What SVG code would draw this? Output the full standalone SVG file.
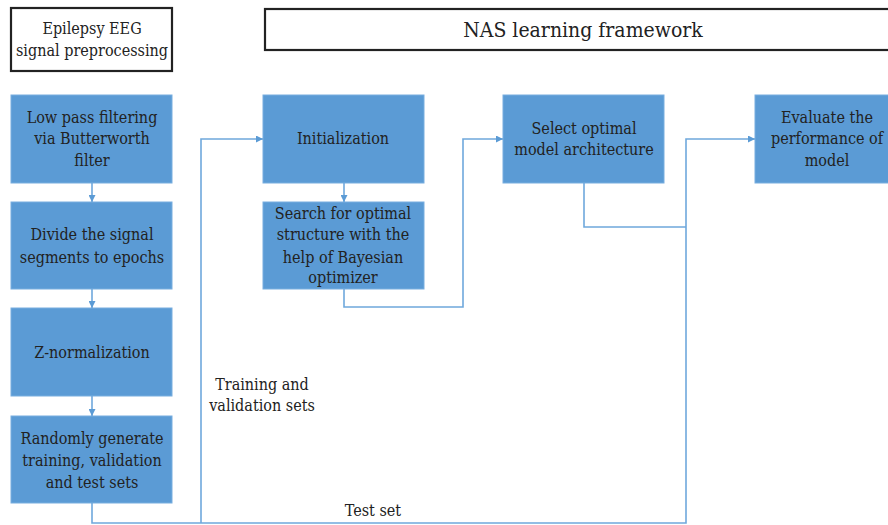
<svg xmlns="http://www.w3.org/2000/svg" width="888" height="525" viewBox="0 0 888 525">
<defs>
<style>
.box{fill:#5B9BD5;stroke:#79AEDF;stroke-width:1}
.hdr{fill:#fff;stroke:#222;stroke-width:2.2}
.t{font-family:"DejaVu Serif Condensed","DejaVu Serif",serif;font-stretch:condensed;font-size:16px;fill:#222;text-anchor:middle}
.big{font-size:21px}
.c{fill:none;stroke:#6FA8DC;stroke-width:1.6}
</style>
<marker id="ah" viewBox="0 0 10 10" refX="10" refY="5" markerWidth="7" markerHeight="7" markerUnits="userSpaceOnUse" orient="auto">
<path d="M0,0 L10,5 L0,10 Z" fill="#5B9BD5"/>
</marker>
</defs>
<rect width="888" height="525" fill="#fff"/>

<g id="hdr-preprocessing">
<rect class="hdr" x="11" y="8" width="161" height="63"/>
<text class="t" x="92" y="34">Epilepsy EEG</text>
<text class="t" x="92" y="56">signal preprocessing</text>
</g>
<g id="hdr-nas">
<rect class="hdr" x="265" y="9" width="640" height="41"/>
<text class="t big" x="583" y="37">NAS learning framework</text>
</g>

<g id="lowpass">
<rect class="box" x="11" y="95" width="161" height="88"/>
<text class="t" x="92" y="123">Low pass filtering</text>
<text class="t" x="92" y="144">via Butterworth</text>
<text class="t" x="92" y="166">filter</text>
</g>
<g id="divide">
<rect class="box" x="11" y="202" width="161" height="87"/>
<text class="t" x="92" y="240">Divide the signal</text>
<text class="t" x="92" y="263">segments to epochs</text>
</g>
<g id="znorm">
<rect class="box" x="11" y="308" width="161" height="88"/>
<text class="t" x="92" y="358">Z-normalization</text>
</g>
<g id="random">
<rect class="box" x="11" y="416" width="161" height="87"/>
<text class="t" x="92" y="444">Randomly generate</text>
<text class="t" x="92" y="466">training, validation</text>
<text class="t" x="92" y="488">and test sets</text>
</g>
<g id="init">
<rect class="box" x="263" y="95" width="161" height="88"/>
<text class="t" x="343" y="144">Initialization</text>
</g>
<g id="search">
<rect class="box" x="263" y="202" width="161" height="87"/>
<text class="t" x="343" y="219">Search for optimal</text>
<text class="t" x="343" y="240">structure with the</text>
<text class="t" x="343" y="263">help of Bayesian</text>
<text class="t" x="343" y="283">optimizer</text>
</g>
<g id="select">
<rect class="box" x="503" y="95" width="161" height="88"/>
<text class="t" x="584" y="134">Select optimal</text>
<text class="t" x="584" y="155">model architecture</text>
</g>
<g id="evaluate">
<rect class="box" x="755" y="95" width="161" height="88"/>
<text class="t" x="827" y="123">Evaluate the</text>
<text class="t" x="827" y="144">performance of</text>
<text class="t" x="827" y="166">model</text>
</g>

<g id="connectors">
<path class="c" d="M92,183 V202" marker-end="url(#ah)"/>
<path class="c" d="M92,289 V308" marker-end="url(#ah)"/>
<path class="c" d="M92,396 V416" marker-end="url(#ah)"/>
<path class="c" d="M344,183 V202" marker-end="url(#ah)"/>
<path class="c" d="M92,503 V523 H686 V139 H755" marker-end="url(#ah)"/>
<path class="c" d="M201,523 V139 H263" marker-end="url(#ah)"/>
<path class="c" d="M344,289 V307 H463 V139 H503" marker-end="url(#ah)"/>
<path class="c" d="M584,183 V227 H686"/>
</g>

<g id="labels">
<text class="t" x="262" y="390">Training and</text>
<text class="t" x="262" y="411">validation sets</text>
<text class="t" x="373" y="516">Test set</text>
</g>
</svg>
